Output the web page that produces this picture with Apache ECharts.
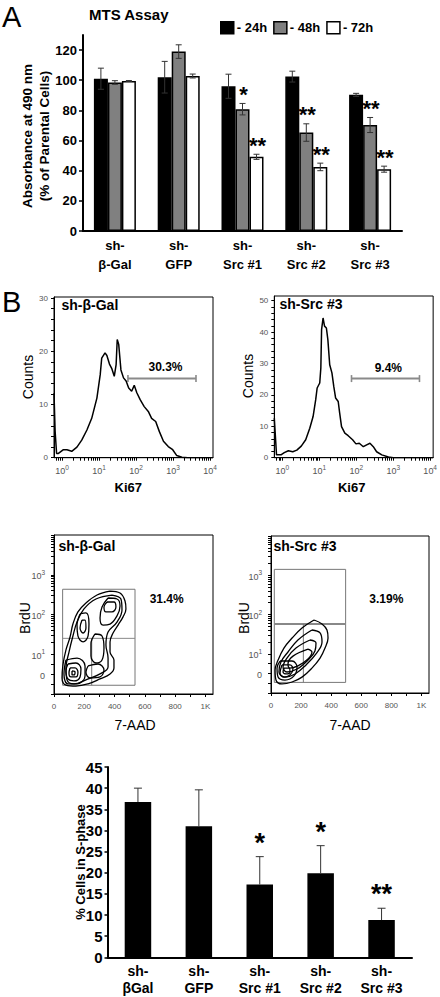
<!DOCTYPE html>
<html><head><meta charset="utf-8">
<script src="https://cdn.jsdelivr.net/npm/echarts@6/dist/echarts.min.js"></script>
<style>html,body{margin:0;padding:0;background:#fff}#c{width:440px;height:997px}</style>
</head><body><div id="c"></div>
<script>
// ---------- Panel A: MTS assay ----------
const mtsCategories = ['sh-\nβ-Gal', 'sh-\nGFP', 'sh-\nSrc #1', 'sh-\nSrc #2', 'sh-\nSrc #3'];
const mtsSeriesNames = ['24h', '48h', '72h'];
const mts24 = [101, 102, 96, 102.4, 90.3];
const mts24Err = [7, 10.5, 8, 3.6, 1];
const mts48 = [98.5, 119, 80.8, 65.3, 70.3];
const mts48Err = [1.2, 4.5, 3.8, 5.8, 5];
const mts72 = [99.5, 102.8, 49.2, 42.5, 41];
const mts72Err = [0.3, 1.3, 1.7, 2.5, 2];
const mts24Stars = ['', '', '', '', ''];
const mts48Stars = ['', '', '*', '**', '**'];
const mts72Stars = ['', '', '**', '**', '**'];
const mtsTicks = [0, 20, 40, 60, 80, 100, 120];

// ---------- Panel B: Ki67 histograms (x = log10 Ki67, y = counts) ----------
const ki67Gal = [[-0.22,12.1],[-0.19,5],[-0.15,0.8],[-0.1,0.8],[0.035,1.5],[0.13,1.5],[0.26,1.2],[0.4,2],[0.53,3.3],[0.67,5.2],[0.8,7.4],[0.94,11.2],[1.03,15.6],[1.07,18.7],[1.16,19.7],[1.21,19.2],[1.28,17.6],[1.34,16.8],[1.41,15.3],[1.46,17.5],[1.49,22.2],[1.53,21.3],[1.59,16.5],[1.66,15],[1.73,14.4],[1.8,13.1],[1.88,12.5],[1.95,13.6],[2.02,12.2],[2.11,10.9],[2.22,9.6],[2.33,8.7],[2.42,7.4],[2.53,6.8],[2.63,4.9],[2.74,3.1],[2.87,2.1],[2.99,1.5],[3.1,0.4],[3.24,0.1],[3.4,0],[4.08,0]];
const ki67Src3 = [[-0.22,12.6],[-0.16,0.9],[-0.04,0.9],[0.05,1.6],[0.16,2.2],[0.28,1.9],[0.39,2.4],[0.51,3.7],[0.63,5.7],[0.74,9.4],[0.83,13.1],[0.9,18.4],[0.94,22.2],[1.01,23.8],[1.04,28.6],[1.06,40.8],[1.1,44.5],[1.14,41.9],[1.19,41.3],[1.23,37.6],[1.28,29.6],[1.34,27],[1.39,22.7],[1.44,19],[1.51,17.9],[1.55,14.2],[1.6,9.9],[1.69,7.8],[1.78,7],[1.9,5.7],[1.99,4.4],[2.08,4.6],[2.19,3.5],[2.28,4.1],[2.37,4.6],[2.46,3.5],[2.55,1.9],[2.69,0.9],[2.87,0.2],[3.0,0],[4.08,0]];
const ki67GalGate = [1.78, 3.62, 14.9];
const ki67Src3Gate = [1.87, 3.71, 25.2];
const ki67GalPct = '30.3%';
const ki67Src3Pct = '9.4%';

// ---------- Panel B: BrdU / 7-AAD contour plots (x = 7-AAD channel, y = BrdU display units) ----------
const brduGalContours = [
  [[370,4.18],[436,4.08],[469,3.68],[475,3.28],[456,2.88],[423,2.47],[390,2.07],[370,1.62],[370,1.11],[396,0.71],[396,0.31],[370,0.01],[304,-0.24],[225,-0.49],[145,-0.6],[79,-0.55],[53,-0.19],[59,0.46],[79,1.22],[106,1.87],[125,2.52],[158,3.13],[211,3.58],[284,3.98],[370,4.18]],
  [[383,3.98],[442,3.78],[449,3.23],[416,2.62],[357,2.12],[343,1.47],[357,0.81],[357,0.36],[304,0.01],[211,-0.29],[132,-0.49],[86,-0.29],[79,0.31],[99,1.11],[125,1.92],[152,2.62],[198,3.28],[277,3.78],[383,3.98]],
  [[357,3.83],[416,3.78],[436,3.43],[416,2.93],[370,2.52],[324,2.47],[304,2.83],[317,3.38],[357,3.83]],
  [[350,3.63],[396,3.63],[409,3.38],[383,3.13],[343,3.13],[330,3.38],[350,3.63]],
  [[172,3.03],[211,3.08],[231,2.52],[225,1.92],[192,1.62],[158,1.92],[152,2.47],[172,3.03]],
  [[185,2.72],[205,2.72],[211,2.32],[192,2.07],[172,2.32],[185,2.72]],
  [[271,2.02],[317,1.92],[330,1.32],[317,0.71],[277,0.56],[244,0.91],[244,1.52],[271,2.02]],
  [[79,0.71],[152,0.81],[205,0.41],[205,-0.09],[152,-0.49],[92,-0.49],[66,0.01],[79,0.71]],
  [[92,0.51],[145,0.56],[178,0.26],[172,-0.14],[132,-0.34],[92,-0.24],[79,0.16],[92,0.51]],
  [[106,0.31],[139,0.31],[158,0.11],[145,-0.14],[112,-0.14],[99,0.06],[106,0.31]],
  [[119,0.16],[139,0.11],[132,-0.04],[119,-0.04],[119,0.16]],
  [[225,0.41],[291,0.51],[330,0.21],[304,-0.14],[238,-0.19],[211,0.11],[225,0.41]]
];
const brduSrc3Contours = [
  [[286,2.72],[339,2.52],[372,2.21],[379,1.8],[359,1.29],[326,0.78],[272,0.27],[206,-0.19],[140,-0.44],[73,-0.54],[33,-0.34],[27,0.17],[47,0.68],[86,1.29],[140,1.8],[206,2.31],[286,2.72]],
  [[272,2.21],[326,2.06],[339,1.6],[299,0.99],[233,0.43],[160,-0.03],[93,-0.19],[53,0.07],[66,0.58],[113,1.09],[179,1.7],[272,2.21]],
  [[259,1.7],[299,1.55],[292,1.14],[246,0.68],[173,0.22],[106,0.07],[80,0.32],[106,0.78],[166,1.29],[259,1.7]],
  [[246,1.24],[272,1.09],[246,0.73],[179,0.38],[126,0.27],[113,0.48],[146,0.88],[246,1.24]],
  [[60,0.63],[140,0.63],[173,0.32],[153,-0.13],[93,-0.34],[47,-0.19],[40,0.27],[60,0.63]],
  [[73,0.43],[126,0.43],[146,0.22],[126,-0.08],[86,-0.19],[60,0.02],[73,0.43]],
  [[86,0.27],[120,0.27],[126,0.07],[100,-0.03],[80,0.07],[86,0.27]]
];
// gate: [x1, x2, yBottom, yTop, ySplit, xSplit]
const brduGalGate = [57, 535, -0.56, 4.27, 1.80, 249];
const brduSrc3Gate = [22, 496, -0.46, 5.30, 2.52, 215];
const brduGalPct = '31.4%';
const brduSrc3Pct = '3.19%';

// ---------- Panel C: % cells in S-phase ----------
const sphaseCategories = ['sh-\nβGal', 'sh-\nGFP', 'sh-\nSrc #1', 'sh-\nSrc #2', 'sh-\nSrc #3'];
const sphaseValues = [36.7, 31, 17.2, 19.9, 8.8];
const sphaseErr = [3.3, 8.6, 6.6, 6.5, 2.8];
const sphaseStars = ['', '', '*', '*', '**'];
const sphaseTicks = [0, 5, 10, 15, 20, 25, 30, 35, 40, 45];

// ---------- helpers ----------
const FONT = '"Liberation Sans", Arial, Helvetica, sans-serif';
const chart = echarts.init(document.getElementById('c'), null, {renderer: 'svg', width: 440, height: 997});

function logTicks(lo, hi) {
  const t = [];
  for (let k = -1; k <= 4; k++) for (let m = 1; m <= 9; m++) {
    const v = k + Math.log10(m);
    if (v >= lo - 1e-9 && v <= hi + 1e-9) t.push(+v.toFixed(4));
  }
  return t;
}
function evenTicks(lo, hi, step) { const t = []; for (let v = lo; v <= hi + 1e-9; v += step) t.push(+v.toFixed(4)); return t; }
const supRich = {
  b: {fontFamily: FONT, fontSize: 9, color: '#555', lineHeight: 12, verticalAlign: 'bottom'},
  s: {fontFamily: FONT, fontSize: 6.5, color: '#555', lineHeight: 12, verticalAlign: 'top'}
};

const BW = 14;
function mtsErrSeries(vals, errs, stars, k) {
  return {
    type: 'custom', xAxisIndex: 0, yAxisIndex: 0, z: 5, silent: true,
    data: vals.map((v, i) => [i, v, errs[i]]),
    renderItem(params, api) {
      const i = api.value(0), v = api.value(1), e = api.value(2);
      const top = api.coord([i, v + e]), bot = api.coord([i, v - e]);
      const x = top[0] + (k - 1) * BW;
      const st = {stroke: '#333', lineWidth: 1};
      const ch = [
        {type: 'line', shape: {x1: x, y1: top[1], x2: x, y2: bot[1]}, style: st},
        {type: 'line', shape: {x1: x - 3, y1: top[1], x2: x + 3, y2: top[1]}, style: st},
        {type: 'line', shape: {x1: x - 3, y1: bot[1], x2: x + 3, y2: bot[1]}, style: st}
      ];
      const s = stars[params.dataIndex];
      if (s) ch.push({type: 'text', x: x + 1, y: top[1] - 9, style: {text: s, fontFamily: FONT, fontWeight: 'bold', fontSize: 22, fill: '#000', textAlign: 'center', textVerticalAlign: 'middle'}});
      return {type: 'group', children: ch};
    }
  };
}
function histGate(gi, g) {
  return {
    type: 'custom', xAxisIndex: gi, yAxisIndex: gi, silent: true, data: [g],
    renderItem(p, api) {
      const a = api.coord([api.value(0), api.value(2)]), b = api.coord([api.value(1), api.value(2)]);
      const st = {stroke: '#8a8a8a', lineWidth: 1.6};
      return {type: 'group', children: [
        {type: 'line', shape: {x1: a[0], y1: a[1], x2: b[0], y2: b[1]}, style: {stroke: '#8a8a8a', lineWidth: 2}},
        {type: 'line', shape: {x1: a[0], y1: a[1] - 3.5, x2: a[0], y2: a[1] + 3.5}, style: st},
        {type: 'line', shape: {x1: b[0], y1: b[1] - 3.5, x2: b[0], y2: b[1] + 3.5}, style: st}
      ]};
    }
  };
}
function contourGate(gi, g, splitWidth) {
  return {
    type: 'custom', xAxisIndex: gi, yAxisIndex: gi, silent: true, z: 1, data: [g],
    renderItem(p, api) {
      const tl = api.coord([api.value(0), api.value(3)]), br = api.coord([api.value(1), api.value(2)]);
      const sy = api.coord([api.value(0), api.value(4)])[1];
      const sx = api.coord([api.value(5), api.value(2)])[0];
      const st = {stroke: '#777', lineWidth: 1, fill: null};
      return {type: 'group', children: [
        {type: 'rect', shape: {x: tl[0], y: tl[1], width: br[0] - tl[0], height: br[1] - tl[1]}, style: st},
        {type: 'line', shape: {x1: tl[0], y1: sy, x2: br[0], y2: sy}, style: {stroke: '#888', lineWidth: splitWidth}},
        {type: 'line', shape: {x1: sx, y1: sy, x2: sx, y2: br[1]}, style: {stroke: '#777', lineWidth: 1}}
      ]};
    }
  };
}
function contourSeries(gi, rings) {
  return rings.map(r => ({
    type: 'line', xAxisIndex: gi, yAxisIndex: gi, data: r, symbol: 'none', smooth: 0.4, silent: true, z: 3,
    lineStyle: {color: '#000', width: 1.3}
  }));
}

// ---------- axes ----------
const boldTick = {fontFamily: FONT, fontWeight: 'bold', color: '#000'};
const histX = (gi) => ({
  type: 'value', gridIndex: gi, min: -0.22, max: 4.08,
  axisLine: {show: true, onZero: false, lineStyle: {color: '#000', width: 1}},
  axisTick: {show: true, customValues: logTicks(-0.22, 4.08), length: 3, lineStyle: {color: '#000'}},
  axisLabel: {customValues: [0, 1, 2, 3, 4], margin: 6, formatter: v => '{b|10}{s|' + Math.round(v) + '}', rich: supRich},
  splitLine: {show: false}
});
const histY = (gi, max, labels) => ({
  type: 'value', gridIndex: gi, min: 0, max: max,
  axisLine: {show: true, onZero: false, lineStyle: {color: '#000', width: 1}},
  axisTick: {show: true, customValues: evenTicks(0, labels[labels.length - 1], 2), length: 3, lineStyle: {color: '#000'}},
  axisLabel: {customValues: labels, margin: 6, fontFamily: FONT, fontSize: 8, color: '#555'},
  splitLine: {show: false}
});
const contourX = (gi) => ({
  type: 'value', gridIndex: gi, min: 0, max: 1050,
  axisLine: {show: true, onZero: false, lineStyle: {color: '#000', width: 1}},
  axisTick: {show: true, customValues: evenTicks(0, 1000, 100), length: 3, lineStyle: {color: '#000'}},
  axisLabel: {customValues: [0, 200, 400, 600, 800, 1000], margin: 8, fontFamily: FONT, fontSize: 8, color: '#555', formatter: v => v === 1000 ? '1K' : String(v)},
  splitLine: {show: false}
});
const contourYTicks = [-1, -0.5, 0, 0.5].concat([1, 3, 5].flatMap(d => [1,2,3,4,5,6,7,8,9].map(m => +(d + 2 * Math.log10(m)).toFixed(4)))).concat([7]);
const contourY = (gi) => ({
  type: 'value', gridIndex: gi, min: -1, max: 7,
  axisLine: {show: true, onZero: false, lineStyle: {color: '#000', width: 1}},
  axisTick: {show: true, customValues: contourYTicks, length: 3, lineStyle: {color: '#000'}},
  axisLabel: {customValues: [0, 1, 3, 5], margin: 9,
    formatter: v => v === 0 ? '{b|0}' : '{b|10}{s|' + ((v + 1) / 2) + '}', rich: supRich},
  splitLine: {show: false}
});

function txt(text, x, y, size, opts) {
  opts = opts || {};
  return {
    type: 'text', x: x, y: y, rotation: opts.rot || 0, silent: true,
    style: {text: text, fontFamily: FONT, fontSize: size, fontWeight: opts.bold ? 'bold' : 'normal',
      fill: '#000', textAlign: opts.align || 'center', textVerticalAlign: 'middle', lineHeight: opts.lh}
  };
}

const option = {
  animation: false,
  backgroundColor: '#fff',
  legend: {
    left: 220, top: 21, padding: 0, itemWidth: 13, itemHeight: 12, itemGap: 6,
    icon: 'rect', data: mtsSeriesNames, selectedMode: false,
    formatter: '- {name}',
    itemStyle: {borderColor: '#000', borderWidth: 1.5},
    textStyle: {fontFamily: FONT, fontWeight: 'bold', fontSize: 13, color: '#000', padding: [0, 0, 0, -2]}
  },
  grid: [
    {left: 83, top: 35, width: 319, height: 196},
    {left: 54, top: 297, width: 159, height: 160.7, show: true, borderColor: '#000', borderWidth: 1},
    {left: 274.3, top: 296, width: 162.4, height: 161.7, show: true, borderColor: '#000', borderWidth: 1},
    {left: 54, top: 535, width: 159, height: 159, show: true, borderColor: '#000', borderWidth: 1},
    {left: 271, top: 536, width: 158, height: 157, show: true, borderColor: '#000', borderWidth: 1},
    {left: 107.5, top: 767, width: 304.5, height: 190.3}
  ],
  xAxis: [
    {type: 'category', gridIndex: 0, data: mtsCategories,
      axisLine: {lineStyle: {color: '#000', width: 2}}, axisTick: {show: false},
      axisLabel: Object.assign({fontSize: 13, lineHeight: 19, margin: 5, interval: 0}, boldTick)},
    histX(1), histX(2), contourX(3), contourX(4),
    {type: 'category', gridIndex: 5, data: sphaseCategories,
      axisLine: {lineStyle: {color: '#000', width: 2}}, axisTick: {show: false},
      axisLabel: Object.assign({fontSize: 14, lineHeight: 17, margin: 5, interval: 0}, boldTick)}
  ],
  yAxis: [
    {type: 'value', gridIndex: 0, min: 0, max: 130,
      axisLine: {show: true, lineStyle: {color: '#000', width: 2}},
      axisTick: {show: true, customValues: mtsTicks, length: 4, lineStyle: {color: '#000', width: 1.5}},
      axisLabel: Object.assign({customValues: mtsTicks, fontSize: 13, margin: 6}, boldTick),
      splitLine: {show: false}},
    histY(1, 30.2, [0, 10, 20, 30]),
    histY(2, 51.5, [0, 10, 20, 30, 40, 50]),
    contourY(3), contourY(4),
    {type: 'value', gridIndex: 5, min: 0, max: 45, interval: 5,
      axisLine: {show: true, lineStyle: {color: '#000', width: 2}},
      axisTick: {show: true, length: 3, lineStyle: {color: '#000', width: 1.5}},
      axisLabel: Object.assign({fontSize: 15, margin: 5}, boldTick),
      splitLine: {show: false}}
  ],
  series: [
    {name: '24h', type: 'bar', xAxisIndex: 0, yAxisIndex: 0, data: mts24, barWidth: BW, barGap: '0%',
      itemStyle: {color: '#000', borderColor: '#000', borderWidth: 1.5}},
    {name: '48h', type: 'bar', xAxisIndex: 0, yAxisIndex: 0, data: mts48, barWidth: BW, barGap: '0%',
      itemStyle: {color: '#808080', borderColor: '#000', borderWidth: 1.5}},
    {name: '72h', type: 'bar', xAxisIndex: 0, yAxisIndex: 0, data: mts72, barWidth: BW, barGap: '0%',
      itemStyle: {color: '#fff', borderColor: '#000', borderWidth: 1.5}},
    mtsErrSeries(mts24, mts24Err, mts24Stars, 0),
    mtsErrSeries(mts48, mts48Err, mts48Stars, 1),
    mtsErrSeries(mts72, mts72Err, mts72Stars, 2),

    {type: 'line', xAxisIndex: 1, yAxisIndex: 1, data: ki67Gal, symbol: 'none', silent: true,
      lineStyle: {color: '#000', width: 1.5}},
    histGate(1, ki67GalGate),
    {type: 'line', xAxisIndex: 2, yAxisIndex: 2, data: ki67Src3, symbol: 'none', silent: true,
      lineStyle: {color: '#000', width: 1.5}},
    histGate(2, ki67Src3Gate),

    contourGate(3, brduGalGate, 1),
    ...contourSeries(3, brduGalContours),
    contourGate(4, brduSrc3Gate, 2),
    ...contourSeries(4, brduSrc3Contours),

    {type: 'bar', xAxisIndex: 5, yAxisIndex: 5, data: sphaseValues, barWidth: 26.5,
      itemStyle: {color: '#000'}},
    {type: 'custom', xAxisIndex: 5, yAxisIndex: 5, silent: true, z: 5,
      data: sphaseValues.map((v, i) => [i, v, sphaseErr[i]]),
      renderItem(params, api) {
        const i = api.value(0), v = api.value(1), e = api.value(2);
        const base = api.coord([i, v]), top = api.coord([i, v + e]);
        const st = {stroke: '#333', lineWidth: 1};
        const ch = [
          {type: 'line', shape: {x1: base[0], y1: base[1], x2: base[0], y2: top[1]}, style: st},
          {type: 'line', shape: {x1: base[0] - 4, y1: top[1], x2: base[0] + 4, y2: top[1]}, style: st}
        ];
        const s = sphaseStars[params.dataIndex];
        if (s) ch.push({type: 'text', x: base[0], y: top[1] - 14, style: {text: s, fontFamily: FONT, fontWeight: 'bold', fontSize: 27, fill: '#000', textAlign: 'center', textVerticalAlign: 'middle'}});
        return {type: 'group', children: ch};
      }}
  ],
  graphic: {elements: [
    txt('A', 2, 17, 29, {align: 'left'}),
    txt('MTS Assay', 89, 14, 15, {bold: true, align: 'left'}),
    txt('Absorbance at 490 nm\n(% of Parental Cells)', 36, 136, 13.5, {bold: true, rot: Math.PI / 2, lh: 17.5}),
    txt('B', 2, 302, 29, {align: 'left'}),
    txt('Counts', 27.5, 377, 14, {rot: Math.PI / 2}),
    txt('Counts', 247.5, 376, 14, {rot: Math.PI / 2}),
    txt('Ki67', 128.3, 487, 13, {bold: true}),
    txt('Ki67', 351.7, 487, 13, {bold: true}),
    txt('sh-β-Gal', 61.5, 305, 14, {bold: true, align: 'left'}),
    txt('sh-Src #3', 279.5, 304, 14, {bold: true, align: 'left'}),
    txt(ki67GalPct, 165.5, 367.3, 12, {bold: true}),
    txt(ki67Src3Pct, 388.3, 368, 12, {bold: true}),
    txt('sh-β-Gal', 58.5, 545.7, 14, {bold: true, align: 'left'}),
    txt('sh-Src #3', 273.5, 545.7, 14, {bold: true, align: 'left'}),
    txt(brduGalPct, 166.7, 599, 12, {bold: true}),
    txt(brduSrc3Pct, 386.3, 599, 12, {bold: true}),
    txt('BrdU', 25, 618, 14, {rot: Math.PI / 2}),
    txt('BrdU', 244, 618, 14, {rot: Math.PI / 2}),
    txt('7-AAD', 135, 725, 14),
    txt('7-AAD', 350, 725, 14),
    txt('% Cells in S-phase', 80, 862, 13, {bold: true, rot: Math.PI / 2})
  ]}
};
chart.setOption(option);
</script>
</body></html>
